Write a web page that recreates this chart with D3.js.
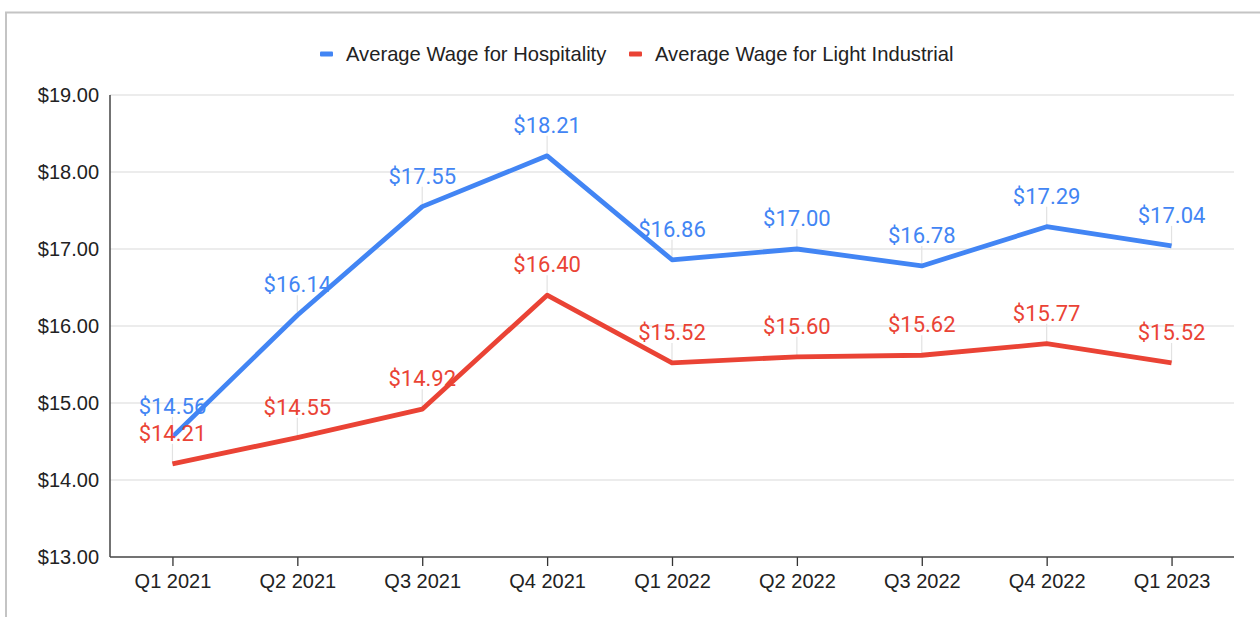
<!DOCTYPE html>
<html>
<head>
<meta charset="utf-8">
<script src="https://cdn.jsdelivr.net/npm/d3@7"></script>
<style>
  body { margin: 0; background: #fff; }
  svg { display: block; }
</style>
</head>
<body>
<svg id="chart"></svg>
<script>
const quarters = ["Q1 2021", "Q2 2021", "Q3 2021", "Q4 2021", "Q1 2022", "Q2 2022", "Q3 2022", "Q4 2022", "Q1 2023"];
const hospitality = [14.56, 16.14, 17.55, 18.21, 16.86, 17.00, 16.78, 17.29, 17.04];
const lightIndustrial = [14.21, 14.55, 14.92, 16.40, 15.52, 15.60, 15.62, 15.77, 15.52];
const yTicks = [13, 14, 15, 16, 17, 18, 19];
const seriesNames = ["Average Wage for Hospitality", "Average Wage for Light Industrial"];

const W = 1260, H = 617;
const margin = {top: 95, right: 26, bottom: 60, left: 110};
const colors = ["#4285f4", "#ea4335"];

const svg = d3.select("#chart").attr("width", W).attr("height", H);

// spreadsheet frame behind the chart
svg.append("path")
    .attr("d", `M6,${H} V12.5 H${W}`)
    .attr("fill", "none")
    .attr("stroke", "#c4c4c4")
    .attr("stroke-width", 2);

const x = d3.scalePoint()
    .domain(quarters)
    .range([margin.left, W - margin.right])
    .padding(0.5);

const y = d3.scaleLinear()
    .domain([13, 19])
    .range([H - margin.bottom, margin.top]);

// gridlines
svg.append("g")
    .selectAll("line")
    .data(yTicks.slice(1))
    .enter().append("line")
    .attr("x1", margin.left)
    .attr("x2", W - margin.right)
    .attr("y1", d => y(d))
    .attr("y2", d => y(d))
    .attr("stroke", "#d9d9d9")
    .attr("stroke-width", 1.2);

// y axis labels
const yAxis = svg.append("g")
    .attr("transform", `translate(${margin.left}, 0)`)
    .call(d3.axisLeft(y).tickValues(yTicks).tickSize(0).tickPadding(11)
        .tickFormat(d => "$" + d3.format(".2f")(d)));
yAxis.select(".domain").remove();
yAxis.selectAll("text")
    .style("font-family", "'Liberation Sans', Arial, sans-serif")
    .style("font-size", "20px")
    .attr("fill", "#222");

// x axis
const xAxis = svg.append("g")
    .attr("transform", `translate(0, ${y(13)})`)
    .call(d3.axisBottom(x).tickSize(9).tickPadding(8).tickSizeOuter(0));
xAxis.select(".domain").remove();
xAxis.selectAll("line").attr("stroke", "#333").attr("stroke-width", 1.3);
xAxis.selectAll("text")
    .style("font-family", "'Liberation Sans', Arial, sans-serif")
    .style("font-size", "20px")
    .attr("fill", "#222");

// axis lines
svg.append("line")
    .attr("x1", margin.left).attr("x2", margin.left)
    .attr("y1", y(19)).attr("y2", y(13))
    .attr("stroke", "#444").attr("stroke-width", 1.5);
svg.append("line")
    .attr("x1", margin.left).attr("x2", W - margin.right)
    .attr("y1", y(13)).attr("y2", y(13))
    .attr("stroke", "#444").attr("stroke-width", 1.5);

const series = [hospitality, lightIndustrial];

const line = d3.line()
    .x((d, i) => x(quarters[i]))
    .y(d => y(d));

series.forEach(function (vals, s) {
    // leader lines from label to point
    svg.append("g")
        .selectAll("line")
        .data(vals)
        .enter().append("line")
        .attr("x1", (d, i) => x(quarters[i]))
        .attr("x2", (d, i) => x(quarters[i]))
        .attr("y1", d => y(d) - 20)
        .attr("y2", d => y(d))
        .attr("stroke", "#e2e2e2")
        .attr("stroke-width", 1.2);
});

series.forEach(function (vals, s) {
    svg.append("path")
        .datum(vals)
        .attr("d", line)
        .attr("fill", "none")
        .attr("stroke", colors[s])
        .attr("stroke-width", 4.8)
        .attr("stroke-linejoin", "round");
});

series.forEach(function (vals, s) {
    svg.append("g")
        .selectAll("text")
        .data(vals)
        .enter().append("text")
        .text(d => "$" + d3.format(".2f")(d))
        .attr("x", (d, i) => x(quarters[i]))
        .attr("y", d => y(d) - 23)
        .attr("text-anchor", "middle")
        .style("font-family", "Roboto, sans-serif")
        .style("font-size", "22px")
        .attr("fill", colors[s]);
});

// legend
const legendX = [320, 629];
seriesNames.forEach(function (name, s) {
    svg.append("rect")
        .attr("x", legendX[s])
        .attr("y", 51.5)
        .attr("width", 13)
        .attr("height", 5)
        .attr("rx", 1)
        .attr("fill", colors[s]);
    svg.append("text")
        .text(name)
        .attr("x", legendX[s] + 26)
        .attr("y", 61)
        .style("font-family", "'Liberation Sans', Arial, sans-serif")
        .style("font-size", "20.2px")
        .attr("fill", "#222");
});
</script>
</body>
</html>
